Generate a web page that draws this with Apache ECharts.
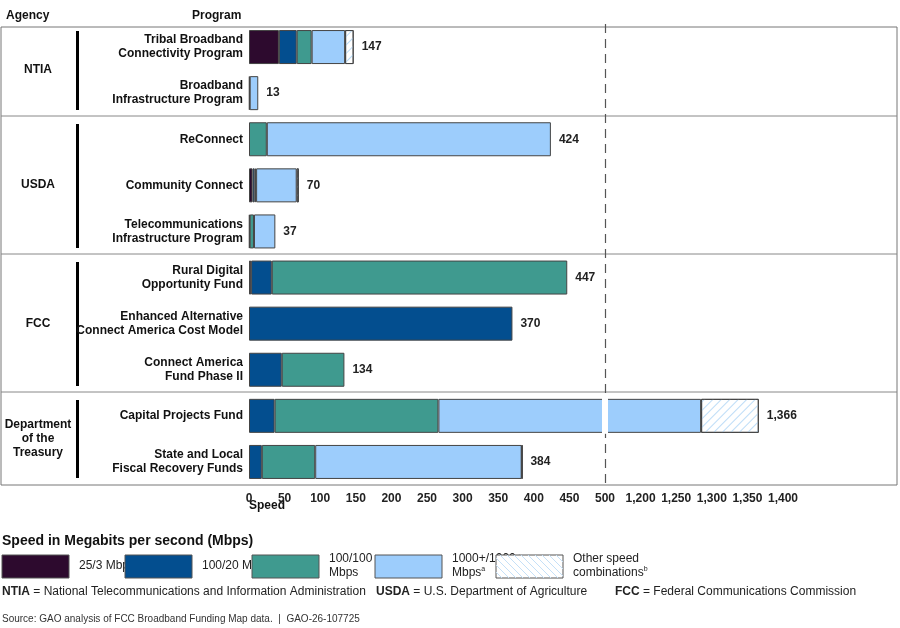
<!DOCTYPE html>
<html>
<head>
<meta charset="utf-8">
<script src="https://cdn.jsdelivr.net/npm/echarts@6/dist/echarts.min.js"></script>
<style>html,body{margin:0;padding:0;background:#fff}#main{width:900px;height:628px}</style>
</head>
<body>
<div id="main"></div>
<script>
// programs, top to bottom
let programs = ['Tribal Broadband\nConnectivity Program', 'Broadband\nInfrastructure Program', 'ReConnect',
    'Community Connect', 'Telecommunications\nInfrastructure Program', 'Rural Digital\nOpportunity Fund',
    'Enhanced Alternative\nConnect America Cost Model', 'Connect America\nFund Phase II', 'Capital Projects Fund',
    'State and Local\nFiscal Recovery Funds'];
let speedNames = ['25/3 Mbps', '100/20 Mbps', '100/100 Mbps', '1000+/1000+ Mbps', 'Other speed combinations'];
let s25 = [42, 0, 0, 5, 0, 3, 0, 0, 0, 0];
let s100_20 = [25, 0, 0, 3, 1, 29, 370, 46, 36, 18];
let s100_100 = [21, 1, 25, 2, 6, 415, 0, 88, 230, 75];
let s1000 = [47, 12, 399, 57, 30, 0, 0, 0, 1019, 290];
let sOther = [12, 0, 0, 3, 0, 0, 0, 0, 81, 1];
let totals = [147, 13, 424, 70, 37, 447, 370, 134, 1366, 384];
let xTicks = [0, 50, 100, 150, 200, 250, 300, 350, 400, 450, 500, 1200, 1250, 1300, 1350, 1400];
let colors = ['#2d0a2e', '#034e8f', '#3f9a8f', '#9dcdfc', '#ffffff'];

// broken axis: 500..1150 is cut out
let cut = v => v <= 500 ? v : Math.max(500, v - 650);
let all = [s25, s100_20, s100_100, s1000, sOther];
let widths = all.map(() => []);
programs.forEach((p, i) => {
    let start = 0;
    all.forEach((arr, k) => {
        let end = start + arr[i];
        let w = cut(end) - cut(start);
        widths[k].push(w > 0 ? w : '-');
        start = end;
    });
});

let chart = echarts.init(document.getElementById('main'));
let series = all.map((arr, k) => ({
    name: speedNames[k], type: 'bar', stack: 'x', barWidth: 34,
    data: widths[k],
    itemStyle: {
        color: colors[k], borderColor: '#444', borderWidth: 1,
        decal: k === 4 ? {symbol: 'rect', symbolSize: 1, dashArrayX: [1, 0], dashArrayY: [1, 5], rotation: -Math.PI / 4, color: '#bcdcf7'} : null
    }
}));
// totals label on invisible bar
series.push({
    type: 'bar', stack: 'x', data: programs.map(() => 0.001), itemStyle: {color: 'transparent'},
    label: {show: true, position: 'right', distance: 8, fontWeight: 'bold', fontSize: 12, color: '#222',
        formatter: p => totals[p.dataIndex].toLocaleString('en-US')},
    markLine: {silent: true, symbol: 'none', label: {show: false},
        lineStyle: {color: '#555', type: [9, 6], width: 1.2}, data: [{xAxis: 500}]}
});

let bold = {fontFamily: 'Liberation Sans, Arial', fontWeight: 'bold', fontSize: 12, fill: '#111'};
let agencies = [['NTIA', 70, 31, 110], ['USDA', 185, 124, 248], ['FCC', 324, 262, 386], ['Department\nof the\nTreasury', 439, 400, 478]];
let graphic = [
    {type: 'rect', shape: {x: 1, y: 27, width: 896, height: 458}, style: {fill: 'none', stroke: '#777', lineWidth: 1}, z: 0},
    {type: 'text', left: 6, top: 10, style: Object.assign({text: 'Agency'}, bold)},
    {type: 'text', left: 192, top: 10, style: Object.assign({text: 'Program'}, bold)},
    {type: 'text', left: 249, top: 500, style: Object.assign({text: 'Speed'}, bold)}
];
[116, 254, 392].forEach(y => graphic.push({type: 'line', shape: {x1: 1, y1: y, x2: 897, y2: y}, style: {stroke: '#888', lineWidth: 1}}));
agencies.forEach(a => {
    graphic.push({type: 'text', x: 38, y: a[1], style: Object.assign({text: a[0], align: 'center', verticalAlign: 'middle', lineHeight: 14}, bold)});
    graphic.push({type: 'rect', shape: {x: 76, y: a[2], width: 3, height: a[3] - a[2]}, style: {fill: '#000'}});
});
// legend
graphic.push({type: 'text', left: 2, top: 534, style: {text: 'Speed in Megabits per second (Mbps)', fontFamily: 'Liberation Sans, Arial', fontWeight: 'bold', fontSize: 14, fill: '#111'}});
let legLabels = ['25/3 Mbps', '100/20 Mbps', '100/100\nMbps', '1000+/1000+\nMbps{s|a}', 'Other speed\ncombinations{s|b}'];
[2, 125, 252, 375, 496].forEach((x, k) => {
    graphic.push({type: 'rect', shape: {x: x, y: 555, width: 67, height: 23}, style: {fill: colors[k], stroke: '#555', lineWidth: 1}});
    if (k === 4) {
        for (let d = 6; d < 90; d += 7) {
            let x1 = x + Math.max(0, d - 23), y1 = 578 - Math.min(23, d) + 0;
            let x2 = x + Math.min(67, d), y2 = 578 - Math.max(0, d - 67);
            graphic.push({type: 'line', shape: {x1: x1, y1: 578 - (x1 - x - (d - 23 > 0 ? d - 23 : 0)) - Math.min(23, d) + 0, x2: x2, y2: y2}, style: {stroke: '#c5e0f7', lineWidth: 1}});
        }
    }
    graphic.push({type: 'text', x: x + 77, y: 566, style: {text: legLabels[k], verticalAlign: 'middle', lineHeight: 14,
        fontFamily: 'Liberation Sans, Arial', fontSize: 12, fill: '#222', rich: {s: {fontSize: 7, verticalAlign: 'top'}}}});
});
let note = (x, ab, txt) => graphic.push({type: 'text', left: x, top: 586, style: {text: '{b|' + ab + '} = ' + txt,
    fontFamily: 'Liberation Sans, Arial', fontSize: 12, fill: '#222', rich: {b: {fontWeight: 'bold', fontSize: 12}}}});
note(2, 'NTIA', 'National Telecommunications and Information Administration');
note(376, 'USDA', 'U.S. Department of Agriculture');
note(615, 'FCC', 'Federal Communications Commission');
graphic.push({type: 'text', left: 2, top: 614, style: {text: 'Source: GAO analysis of FCC Broadband Funding Map data.  |  GAO-26-107725',
    fontFamily: 'Liberation Sans, Arial', fontSize: 10, fill: '#333'}});

chart.setOption({
    animation: false,
    grid: {left: 249, top: 24, width: 534, height: 461},
    xAxis: {
        type: 'value', min: 0, max: 750, interval: 50,
        splitLine: {show: false},
        axisLine: {show: false}, axisTick: {show: false},
        axisLabel: {fontWeight: 'bold', fontSize: 12, color: '#222', margin: 8, fontFamily: 'Liberation Sans, Arial',
            formatter: v => (v <= 500 ? v : v + 650).toLocaleString('en-US')}
    },
    yAxis: {
        type: 'category', inverse: true, data: programs,
        axisLine: {show: false}, axisTick: {show: false},
        axisLabel: {fontWeight: 'bold', fontSize: 12, color: '#111', margin: 6, lineHeight: 14, fontFamily: 'Liberation Sans, Arial'}
    },
    series: series,
    graphic: graphic
});
// white break through the Capital Projects Fund bar
let p = chart.convertToPixel({xAxisIndex: 0, yAxisIndex: 0}, [500, 8]);
graphic.push({type: 'rect', shape: {x: p[0] - 3, y: p[1] - 18, width: 6, height: 36}, style: {fill: '#fff'}, z: 100});
chart.setOption({graphic: graphic});
</script>
</body>
</html>
